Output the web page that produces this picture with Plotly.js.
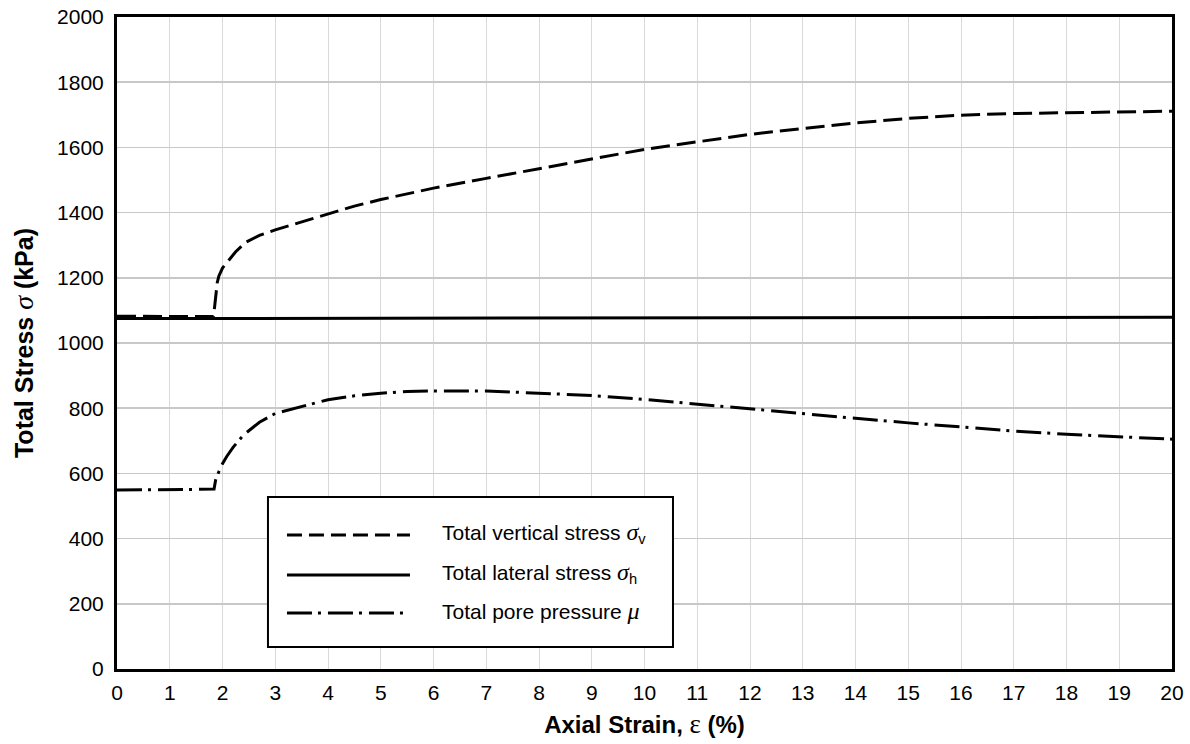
<!DOCTYPE html>
<html>
<head>
<meta charset="utf-8">
<script src="https://cdn.plot.ly/plotly-3.0.1.min.js"></script>
<style>html,body{margin:0;padding:0;background:#fff}#chart{width:1190px;height:744px}</style>
</head>
<body>
<div id="chart"></div>
<script>
// Axial strain (%) and stresses (kPa)
var vertStrain = [0, 0.5, 1, 1.5, 1.83, 1.85, 1.87, 1.9, 1.93, 1.97, 2.0, 2.1, 2.25, 2.45, 2.7, 3.0, 3.5, 4, 4.5, 5, 5.5, 6, 7, 8, 9, 10, 11, 12, 13, 14, 15, 16, 17, 18, 19, 20];
var vertStress = [1082, 1082, 1081, 1081, 1081, 1110, 1150, 1185, 1205, 1220, 1230, 1250, 1280, 1310, 1330, 1347, 1372, 1397, 1420, 1440, 1458, 1475, 1505, 1535, 1563, 1594, 1617, 1640, 1658, 1675, 1689, 1699, 1704, 1707, 1709, 1711];

var latStrain = [0, 5, 10, 15, 20];
var latStress = [1075, 1076, 1077, 1078, 1079];

var poreStrain = [0, 0.5, 1, 1.5, 1.84, 1.87, 1.93, 2.0, 2.08, 2.2, 2.4, 2.7, 3.0, 3.5, 4, 4.5, 5, 5.5, 6, 7, 8, 9, 10, 11, 12, 13, 14, 15, 16, 17, 18, 19, 20];
var porePressure = [549, 549, 550, 551, 552, 580, 605, 630, 652, 680, 718, 757, 784, 805, 826, 838, 846, 851, 853, 853, 847, 839, 827, 812, 798, 784, 769, 755, 742, 730, 720, 712, 705];

var xTicks = [0,1,2,3,4,5,6,7,8,9,10,11,12,13,14,15,16,17,18,19,20];
var yTicks = [0,200,400,600,800,1000,1200,1400,1600,1800,2000];

var greek = function (ch) {
  return '<span style="font-family:\'Liberation Serif\';font-style:italic;font-size:24px">' + ch + '</span>';
};
var legendLabels = [
  'Total vertical stress ' + greek('σ') + '<sub>v</sub>',
  'Total lateral stress ' + greek('σ') + '<sub>h</sub>',
  'Total pore pressure ' + greek('μ')
];
var dashV = '19px,7px';
var dashP = '25px,6px,3px,7px';

var traces = [
  {x: vertStrain, y: vertStress, mode: 'lines', line: {color: '#000', width: 3, dash: dashV}, name: 'v', hoverinfo: 'skip'},
  {x: latStrain, y: latStress, mode: 'lines', line: {color: '#000', width: 3}, name: 'h', hoverinfo: 'skip'},
  {x: poreStrain, y: porePressure, mode: 'lines', line: {color: '#000', width: 3, dash: dashP}, name: 'p', hoverinfo: 'skip'}
];

var legX0 = 0.1611, legX1 = 0.2777, legTx = 0.3062;
var legY = [0.2055, 0.1442, 0.0859];
var legDash = ['15px,7px', 'solid', dashP];

var shapes = [{type: 'rect', xref: 'paper', yref: 'paper', x0: 0.1431, x1: 0.527, y0: 0.0337, y1: 0.2638,
  fillcolor: '#fff', line: {color: '#000', width: 2}, layer: 'above'}];
var annotations = [];
for (var i = 0; i < 3; i++) {
  shapes.push({type: 'line', xref: 'paper', yref: 'paper', x0: legX0, x1: legX1, y0: legY[i], y1: legY[i],
    line: {color: '#000', width: 3, dash: legDash[i]}, layer: 'above'});
  annotations.push({xref: 'paper', yref: 'paper', x: legTx, y: legY[i] + 0.003, xanchor: 'left', yanchor: 'middle',
    text: legendLabels[i], showarrow: false, font: {family: 'Liberation Sans, Arial, sans-serif', size: 21, color: '#000'}});
}

var layout = {
  width: 1190, height: 744,
  margin: {l: 117, r: 18, t: 17, b: 75},
  paper_bgcolor: '#fff', plot_bgcolor: '#fff',
  showlegend: false,
  font: {family: 'Liberation Sans, Arial, sans-serif', size: 21, color: '#000'},
  xaxis: {
    range: [0, 20], tickvals: xTicks, ticktext: xTicks.map(String),
    showgrid: true, gridcolor: '#d9d9d9', gridwidth: 1,
    showline: true, linecolor: '#000', linewidth: 3, mirror: true,
    ticks: 'outside', ticklen: 3, tickcolor: 'rgba(0,0,0,0)', zeroline: false,
    tickfont: {size: 21},
    title: {text: '<b>Axial Strain, </b><span style="font-family:\'Liberation Serif\';font-size:27px">ε</span><b> (%)</b>', font: {size: 24}, standoff: 13}
  },
  yaxis: {
    range: [0, 2000], tickvals: yTicks, ticktext: yTicks.map(String),
    showgrid: true, gridcolor: '#c8c8c8', gridwidth: 1.5,
    showline: true, linecolor: '#000', linewidth: 3, mirror: true,
    ticks: 'outside', ticklen: 6, tickcolor: 'rgba(0,0,0,0)', zeroline: false,
    tickfont: {size: 21},
    title: {text: '<b>Total Stress </b><span style="font-family:\'Liberation Serif\';font-style:italic;font-size:28px">σ</span><b> (kPa)</b>', font: {size: 25}, standoff: 17}
  },
  shapes: shapes,
  annotations: annotations
};

Plotly.newPlot('chart', traces, layout, {displayModeBar: false, staticPlot: true});
</script>
</body>
</html>
